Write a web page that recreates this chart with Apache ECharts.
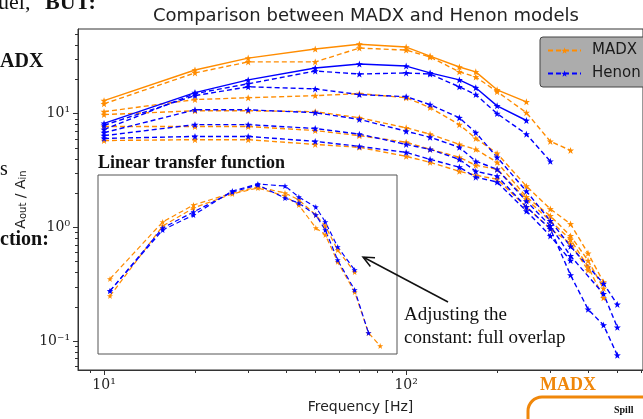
<!DOCTYPE html>
<html>
<head>
<meta charset="utf-8">
<script src="https://cdn.jsdelivr.net/npm/echarts@6/dist/echarts.min.js"></script>
<style>
html,body{margin:0;padding:0;background:#fff}
#main{width:643px;height:419px}
</style>
</head>
<body>
<div id="main"></div>
<script>
// frequencies [Hz]
var freqs = [10, 20, 30, 50, 70, 100, 120, 150, 170, 200, 250, 300, 350, 400, 450, 500];

// A_out / A_in, MADX
var madx1 = [13.0, 24.2, 30.8, 37.0, 40.8, 38.5, 32.1, 25.7, 23.3, 16.2, 12.7];
var madx2 = [12.2, 22.8, 28.5, 28.5, 37.7, 36.2, 31.5, 23.3, 21.0, 15.6, 10.2, 5.7, 4.75];
var madx3 = [10.4, 13.3, 13.8, 14.4, 15.0, 13.8, 11.3, 8.0, 6.05, 4.47, 2.30, 1.45, 1.07, 0.59, 0.33];
var madx4 = [9.8, 10.6, 10.6, 10.4, 9.2, 7.5, 6.6, 5.36, 4.85, 3.73, 1.85, 1.26, 0.84, 0.51, 0.29];
var madx5 = [7.7, 7.7, 7.7, 7.1, 6.4, 5.6, 4.85, 4.13, 3.51, 3.24, 1.77, 1.14, 0.78, 0.45, 0.24];
var madx6 = [5.8, 5.9, 5.9, 5.36, 5.05, 4.21, 3.73, 3.11, 2.87, 2.65, 1.51, 0.97, 0.72, 0.42];

// A_out / A_in, Henon
var henon1 = [8.2, 15.3, 19.8, 25.2, 27.3, 26.2, 22.8, 19.8, 16.9, 11.7, 8.7];
var henon2 = [7.25, 15.0, 18.3, 23.7, 22.3, 22.8, 22.3, 17.2, 14.7, 10.0, 6.6, 3.81];
var henon3 = [7.9, 14.4, 17.2, 16.5, 14.7, 14.1, 12.0, 9.2, 6.8, 4.13, 2.08, 1.14, 0.68, null, 0.32, 0.21];
var henon4 = [6.8, 10.8, 10.8, 10.2, 8.9, 7.0, 6.2, 5.05, 3.81, 3.24, 1.70, 1.03, 0.56, null, 0.26, 0.132];
var henon5 = [6.4, 8.0, 8.0, 7.4, 6.6, 5.36, 4.85, 3.96, 3.11, 2.82, 1.51, 0.97, 0.38, 0.19, 0.138, 0.075];
var henon6 = [6.05, 6.3, 6.3, 5.7, 5.15, 4.56, 3.96, 3.38, 2.76, 2.50, 1.39, 0.84, 0.51];

// inset: linear transfer function
var insetFreqs = [10, 20, 30, 50, 70, 100, 120, 150, 170, 200, 250, 300, 350];
var insetMadx1 = [0.069, 0.299, 0.462, 0.630, 0.734, 0.630, 0.526, 0.357, 0.269, 0.145, 0.0824];
var insetMadx2 = [0.0445, 0.269, 0.428, 0.614, 0.716, 0.582, 0.462, 0.256, 0.214, 0.107, 0.0493, 0.0172, 0.0123];
var insetHenon1 = [0.0506, 0.243, 0.357, 0.662, 0.793, 0.753, 0.567, 0.438, 0.299, 0.157, 0.0869];
var insetHenon2 = [0.0506, 0.256, 0.386, 0.646, 0.773, 0.553, 0.486, 0.357, 0.243, 0.112, 0.0519, 0.0172];

// ticks
var xMajor = [10, 100];
var xTickLabels = ['10¹', '10²'];
var xMinor = [9, 20, 30, 40, 50, 60, 70, 80, 90, 200, 300, 400, 500, 600];
var yMajor = [0.1, 1, 10];
var yTickLabels = ['10⁻¹', '10⁰', '10¹'];
var yMinor = [0.06, 0.07, 0.08, 0.09, 0.2, 0.3, 0.4, 0.5, 0.6, 0.7, 0.8, 0.9, 2, 3, 4, 5, 6, 7, 8, 9, 20, 30, 40, 50];

var orange = '#ff8c00', blue = '#0000ff';
var star = 'path://M0,-10L2.35,-3.24L9.51,-3.09L3.8,1.24L5.88,8.09L0,4L-5.88,8.09L-3.8,1.24L-9.51,-3.09L-2.35,-3.24Z';

function pts(fs, vs){
	var out = [];
	for (var i = 0; i < vs.length; i++){
		if (vs[i] != null) out.push([fs[i], vs[i]]);
	}
	return out;
}

function line(name, fs, vs, color, solid, inset){
	var ax = inset ? 2 : 0;
	return {
		name: name, type: 'line', xAxisIndex: ax, yAxisIndex: ax,
		data: pts(fs, vs),
		symbol: star, symbolSize: inset ? 6 : 7,
		lineStyle: {color: color, width: inset ? 1.2 : 1.4, type: solid ? 'solid' : [5, 3]},
		itemStyle: {color: color},
		silent: true, animation: false
	};
}

function powLabel(list, labels){
	return function(v){
		var e = Math.round(Math.log10(v));
		for (var i = 0; i < list.length; i++){
			if (Math.round(Math.log10(list[i])) === e) return labels[i];
		}
		return '';
	};
}

var xMin = 8.2, xMax = 608, yMin = 0.0556, yMax = 55.5;
var tickFont = {fontFamily: 'DejaVu Serif', fontSize: 14, color: '#222'};

var chart = echarts.init(document.getElementById('main'));
var option = {
	backgroundColor: '#fff',
	animation: false,
	grid: [
		{left: 78, top: 29, width: 577, height: 343, show: true, borderColor: '#333', borderWidth: 1},
		{left: 98, top: 175, width: 299, height: 179, show: true, borderColor: '#555', borderWidth: 1, backgroundColor: '#fff'}
	],
	xAxis: [
		{type: 'log', gridIndex: 0, min: xMin, max: xMax, position: 'bottom',
			axisLine: {show: true, lineStyle: {color: '#333'}},
			axisTick: {show: true, length: 3, customValues: xMinor, lineStyle: {color: '#333'}},
			axisLabel: {show: false}, splitLine: {show: false}},
		{type: 'log', gridIndex: 0, min: xMin, max: xMax, position: 'bottom',
			axisLine: {show: false},
			axisTick: {show: true, length: 5, customValues: xMajor, lineStyle: {color: '#333'}},
			axisLabel: Object.assign({customValues: xMajor, margin: 8, formatter: powLabel(xMajor, xTickLabels)}, tickFont),
			splitLine: {show: false},
			name: 'Frequency [Hz]', nameLocation: 'middle', nameGap: 30,
			nameTextStyle: {fontFamily: 'DejaVu Sans', fontSize: 14, color: '#222'}},
		{type: 'log', gridIndex: 1, min: 8.54, max: 436.5, show: false}
	],
	yAxis: [
		{type: 'log', gridIndex: 0, min: yMin, max: yMax, position: 'left',
			axisLine: {show: true, lineStyle: {color: '#333'}},
			axisTick: {show: true, length: 3, customValues: yMinor, lineStyle: {color: '#333'}},
			axisLabel: {show: false}, splitLine: {show: false}},
		{type: 'log', gridIndex: 0, min: yMin, max: yMax, position: 'left',
			axisLine: {show: false},
			axisTick: {show: true, length: 5, customValues: yMajor, lineStyle: {color: '#333'}},
			axisLabel: Object.assign({customValues: yMajor, margin: 8, formatter: powLabel(yMajor, yTickLabels)}, tickFont),
			splitLine: {show: false},
			name: '{a|A}{s|out}{a| / A}{s|in}', nameLocation: 'middle', nameGap: 37,
			nameTextStyle: {color: '#222', rich: {
				a: {fontFamily: 'DejaVu Sans', fontSize: 14, color: '#222', verticalAlign: 'bottom'},
				s: {fontFamily: 'DejaVu Sans', fontSize: 10, color: '#222', verticalAlign: 'bottom'}
			}}},
		{type: 'log', gridIndex: 1, min: 0.01, max: 1, show: false}
	],
	legend: {
		data: [
			{name: 'MADX', lineStyle: {type: [5, 3]}},
			{name: 'Henon', lineStyle: {type: [5, 3]}}
		],
		orient: 'vertical', left: 540, top: 37,
		itemWidth: 33, itemHeight: 8, itemGap: 8,
		padding: [6, 30, 6, 7],
		backgroundColor: '#acacac', borderColor: '#444', borderWidth: 1, borderRadius: 3,
		textStyle: {fontFamily: 'DejaVu Sans', fontSize: 15, color: '#1a1a1a', padding: [0, 0, 0, 6]}
	},
	series: [
		line('MADX', freqs, madx2, orange, false),
		line('MADX', freqs, madx3, orange, false),
		line('MADX', freqs, madx4, orange, false),
		line('MADX', freqs, madx5, orange, false),
		line('MADX', freqs, madx6, orange, false),
		line('MADX', freqs, madx1, orange, true),
		line('Henon', freqs, henon2, blue, false),
		line('Henon', freqs, henon3, blue, false),
		line('Henon', freqs, henon4, blue, false),
		line('Henon', freqs, henon5, blue, false),
		line('Henon', freqs, henon6, blue, false),
		line('Henon', freqs, henon1, blue, true),
		line('MADX', insetFreqs, insetMadx1, orange, false, true),
		line('MADX', insetFreqs, insetMadx2, orange, false, true),
		line('Henon', insetFreqs, insetHenon1, blue, false, true),
		line('Henon', insetFreqs, insetHenon2, blue, false, true)
	],
	graphic: [
		{type: 'text', x: 366, y: 16, z: 10, style: {text: 'Comparison between MADX and Henon models', font: '18px "DejaVu Sans"', fill: '#222', align: 'center', verticalAlign: 'middle'}},
		{type: 'text', x: -2, y: 3, z: 10, style: {text: 'uel,', font: '22px "Liberation Serif"', fill: '#111', verticalAlign: 'middle'}},
		{type: 'text', x: 45, y: 3, z: 10, style: {text: 'BUT:', font: 'bold 22px "Liberation Serif"', fill: '#111', verticalAlign: 'middle'}},
		{type: 'text', x: 0, y: 62, z: 10, style: {text: 'ADX', font: 'bold 20px "Liberation Serif"', fill: '#111', verticalAlign: 'middle'}},
		{type: 'text', x: 0, y: 170, z: 10, style: {text: 's', font: '20px "Liberation Serif"', fill: '#111', verticalAlign: 'middle'}},
		{type: 'text', x: 0, y: 240, z: 10, style: {text: 'ction:', font: 'bold 20px "Liberation Serif"', fill: '#111', verticalAlign: 'middle'}},
		{type: 'text', x: 98, y: 163, z: 10, style: {text: 'Linear transfer function', font: 'bold 18px "Liberation Serif"', fill: '#111', verticalAlign: 'middle'}},
		{type: 'line', z: 10, shape: {x1: 448, y1: 302, x2: 364, y2: 257.5}, style: {stroke: '#111', lineWidth: 1.5}},
		{type: 'polyline', z: 10, shape: {points: [[375, 257.7], [363, 257], [370.4, 266.5]]}, style: {stroke: '#111', lineWidth: 1.5, fill: null}},
		{type: 'text', x: 404, y: 315, z: 10, style: {text: 'Adjusting the', font: '19px "Liberation Serif"', fill: '#111', verticalAlign: 'middle'}},
		{type: 'text', x: 404, y: 338, z: 10, style: {text: 'constant: full overlap', font: '19px "Liberation Serif"', fill: '#111', verticalAlign: 'middle'}},
		{type: 'text', x: 540, y: 385, z: 10, style: {text: 'MADX', font: 'bold 18px "Liberation Serif"', fill: '#f0870a', verticalAlign: 'middle'}},
		{type: 'rect', z: 10, shape: {x: 528, y: 397, width: 200, height: 60, r: 14}, style: {stroke: '#f0870a', lineWidth: 3, fill: '#fff'}},
		{type: 'text', x: 614, y: 410, z: 11, style: {text: 'Spill', font: 'bold 10px "Liberation Serif"', fill: '#111', verticalAlign: 'middle'}}
	]
};
chart.setOption(option);
</script>
</body>
</html>
